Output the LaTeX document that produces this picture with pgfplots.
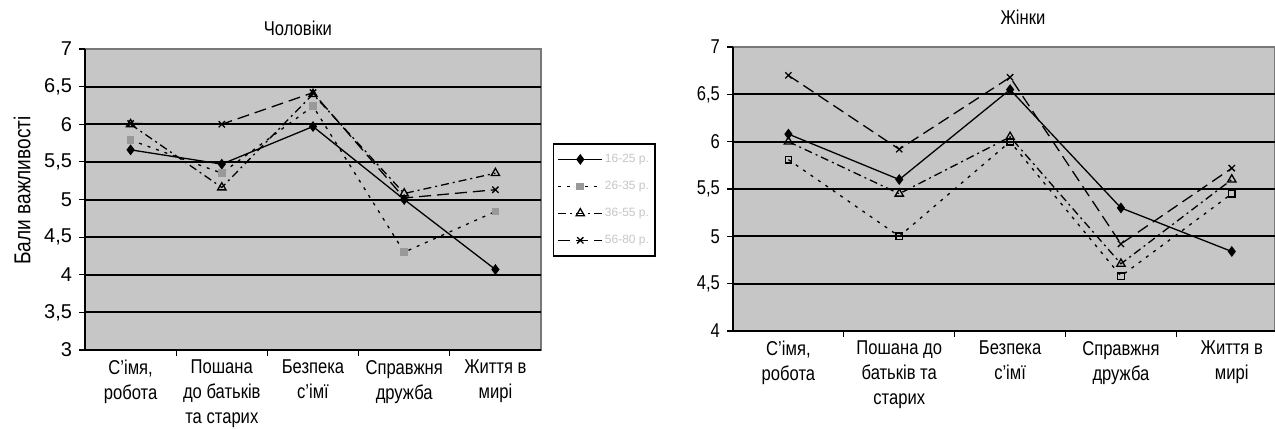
\documentclass[border=0pt]{standalone}
\usepackage{fontspec}
\setmainfont{Liberation Sans}
\newfontfamily\narrowfont{Liberation Sans}[FakeStretch=0.83]
\usepackage{pgfplots}
\pgfplotsset{compat=1.18}
\definecolor{plotgray}{RGB}{198,198,198}
\definecolor{bordergray}{RGB}{120,120,120}
\pgfplotsset{
  chartbase/.style={
    scale only axis,
    anchor=south west,
    xmin=-0.5,
    axis x line*=bottom, axis y line*=left,
    axis line style={-, black, line width=1pt},
    axis background/.style={fill=plotgray, draw=bordergray, line width=0.6pt},
    xtick={0,1,2,3,4},
    major x tick style={draw=none},
    minor xtick={0.5,1.5,2.5,3.5},
    minor tick length=3pt,
    major tick length=3pt,
    tick align=outside,
    tick style={black, line width=0.6pt},
    xticklabel style={align=center, font=\narrowfont\fontsize{10}{12.5}\selectfont, yshift=1.5pt},
    /pgf/number format/assume math mode=true,
    /pgf/number format/use comma,
    extra y tick labels={},
    extra y tick style={major tick length=0pt, grid=major, major grid style={black, line width=1pt}},
    title style={anchor=center, font=\narrowfont\fontsize{10}{12}\selectfont},
    every axis plot/.append style={line width=0.65pt, black},
    clip=false,
  },
  s1/.style={solid, mark=diamond*, mark size=2.2pt, mark options={solid, fill=black}},
  s2/.style={dash pattern=on 1.5pt off 3pt, mark=square*, mark size=1.6pt, mark options={solid, draw=gray!80, fill=gray!80}},
  s2b/.style={dash pattern=on 1.5pt off 3pt, mark=square, mark size=1.6pt, mark options={solid, draw=black}},
  s3/.style={dash pattern=on 4pt off 2pt on 1pt off 2pt, mark=triangle, mark size=2.4pt, mark options={solid}},
  s4/.style={dash pattern=on 6pt off 3pt, mark=x, mark size=2.2pt, mark options={solid}},
}
\begin{document}
\begin{tikzpicture}
\path[use as bounding box] (0,0) rectangle (637.5pt,214.5pt);
% ---------- Left chart: men ----------
\begin{axis}[chartbase,
  at={(42.5pt,39.5pt)},
  width=228pt, height=150.5pt,
  xmax=4.5,
  ymin=3, ymax=7,
  ytick={3,3.5,...,7},
  extra y ticks={3.5,4,...,6.5},
  yticklabel style={font=\fontsize{10}{12}\selectfont},
  xticklabels={{С’імя,\\робота},{Пошана\\до батьків\\та старих},{Безпека\\с’імї},{Справжня\\дружба},{Життя в\\мирі}},
  title={Чоловіки},
  title style={at={(axis description cs:0.467,1.03)}},
  ylabel={Бали важливості},
  every axis y label/.style={at={(axis description cs:-0.138,0.53)}, rotate=90, anchor=center, font=\narrowfont\fontsize{11.5}{13}\selectfont},
  legend style={at={(axis description cs:1.026,0.688)}, anchor=north west, draw=black, line width=0.8pt, fill=white,
    font=\fontsize{6}{7}\selectfont, text=gray!45, row sep=5.8pt, inner ysep=4pt, inner xsep=2pt,
    nodes={inner sep=1pt}},
  legend cell align=left,
  legend image code/.code={\draw[mark repeat=2, mark phase=2, #1] plot coordinates {(0pt,0pt) (11pt,0pt) (22pt,0pt)};},
]
\addplot[s1] coordinates {(0,5.66) (1,5.47) (2,5.97) (3,5.00) (4,4.07)};
\addlegendentry{16-25 р.}
\addplot[s2] coordinates {(0,5.79) (1,5.35) (2,6.24) (3,4.30) (4,4.84)};
\addlegendentry{26-35 р.}
\addplot[s3] coordinates {(0,6.00) (1,5.16) (2,6.40) (3,5.08) (4,5.35)};
\addlegendentry{36-55 р.}
\addplot[s4] coordinates {(0,6.01) (1,6.00) (2,6.42) (3,5.02) (4,5.13)};
\addlegendentry{56-80 р.}
\end{axis}
% ---------- Right chart: women ----------
\begin{axis}[chartbase,
  at={(366.5pt,49pt)},
  width=271pt, height=142pt,
  xmax=4.39,
  ymin=4, ymax=7,
  ytick={4,4.5,...,7},
  extra y ticks={4.5,5,...,6.5},
  yticklabel style={font=\narrowfont\fontsize{10}{12}\selectfont},
  xticklabels={{С’імя,\\робота},{Пошана до\\батьків та\\старих},{Безпека\\с’імї},{Справжня\\дружба},{Життя в\\мирі}},
  title={Жінки},
  title style={at={(axis description cs:0.535,1.064)}},
]
\addplot[s1] coordinates {(0,6.08) (1,5.60) (2,6.55) (3,5.30) (4,4.84)};
\addplot[s2b] coordinates {(0,5.81) (1,5.00) (2,6.00) (3,4.58) (4,5.45)};
\addplot[s3] coordinates {(0,6.00) (1,5.45) (2,6.05) (3,4.71) (4,5.60)};
\addplot[s4] coordinates {(0,6.70) (1,5.92) (2,6.68) (3,4.92) (4,5.72)};
\end{axis}
\end{tikzpicture}
\end{document}
